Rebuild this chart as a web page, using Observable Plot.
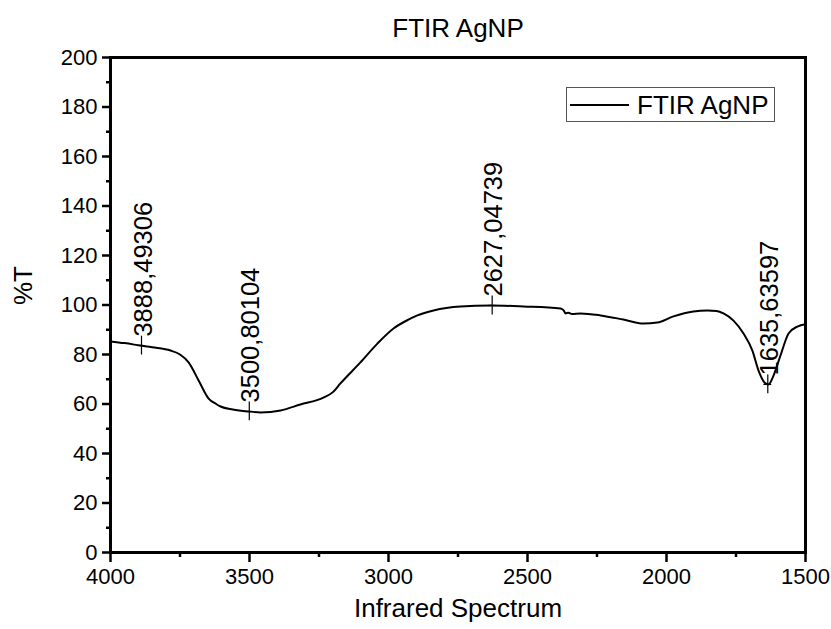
<!DOCTYPE html>
<html>
<head>
<meta charset="utf-8">
<script src="https://cdn.jsdelivr.net/npm/d3@7"></script>
<script src="https://cdn.jsdelivr.net/npm/@observablehq/plot@0.6"></script>
<style>
  html, body { margin: 0; padding: 0; background: white; }
  #wrap { position: relative; width: 831px; height: 629px; font-family: "Liberation Sans", Arial, sans-serif; }
  #legend { position: absolute; left: 566px; top: 87px; width: 207px; height: 33px; border: 1px solid #555; background: white; box-sizing: content-box; }
  #legend svg { position: absolute; left: 0; top: 0; }
</style>
</head>
<body>
<div id="wrap"></div>
<script>
// Spectrum (wavenumber, cm-1 ; %T)
const wavenumber = [4000, 3950, 3892, 3850, 3784, 3750, 3719, 3683, 3647, 3620, 3604, 3560, 3507, 3460, 3388, 3317, 3234, 3200, 3173, 3101, 3040, 2982, 2930, 2896, 2838, 2741, 2633, 2514, 2381, 2370, 2363, 2353, 2340, 2309, 2237, 2155, 2083, 2033, 1975, 1903, 1853, 1820, 1795, 1759, 1723, 1691, 1669, 1644, 1633, 1615, 1590, 1561, 1529, 1500];
const transmittance = [85.3, 84.6, 83.6, 82.9, 81.6, 80.0, 76.8, 69.5, 62.2, 60.0, 59.0, 57.8, 57.0, 56.6, 57.4, 59.8, 62.6, 64.8, 68.3, 76.8, 84.4, 90.5, 94.0, 95.8, 97.8, 99.4, 99.8, 99.4, 98.6, 97.8, 96.6, 96.9, 96.4, 96.6, 95.8, 94.1, 92.5, 92.9, 95.4, 97.4, 97.8, 97.6, 96.6, 93.7, 88.5, 81.6, 73.5, 68.3, 67.9, 71.5, 79.6, 88.5, 91.3, 92.2];

// Peak annotations
const peakWavenumber = [3888.49306, 3500.80104, 2627.04739, 1635.63597];
const peakTransmittance = [83.6, 57.0, 99.8, 67.9];

// Axis ticks
const xTicks = [4000, 3500, 3000, 2500, 2000, 1500];
const xMinorTicks = [3750, 3250, 2750, 2250, 1750];
const yTicks = [0, 20, 40, 60, 80, 100, 120, 140, 160, 180, 200];
const yMinorTicks = [10, 30, 50, 70, 90, 110, 130, 150, 170, 190];

const titleText = "FTIR AgNP";
const seriesName = "FTIR AgNP";
const xLabel = "Infrared Spectrum";
const yLabel = "%T";

const data = wavenumber.map((w, i) => ({w, t: transmittance[i]}));
const peaks = peakWavenumber.map((w, i) => ({w, t: peakTransmittance[i], label: String(w).replace(".", ",")}));

const plot = Plot.plot({
  width: 831,
  height: 629,
  marginLeft: 110,
  marginRight: 26,
  marginTop: 57,
  marginBottom: 77,
  style: {fontFamily: "'Liberation Sans', Arial, sans-serif", fontSize: "22px", color: "black", background: "white"},
  x: {domain: [4000, 1500]},
  y: {domain: [0, 200]},
  marks: [
    Plot.axisX(xMinorTicks, {tickSize: 5, strokeWidth: 2.5, tickFormat: () => "", label: null}),
    Plot.axisX(xTicks, {tickSize: 10, strokeWidth: 2.5, tickPadding: 6, tickFormat: d => String(d), label: null, fontSize: 22}),
    Plot.axisY(yMinorTicks, {tickSize: 4, strokeWidth: 2.5, tickFormat: () => "", label: null}),
    Plot.axisY(yTicks, {tickSize: 8, strokeWidth: 2.5, tickPadding: 5, tickFormat: d => String(d), label: null, fontSize: 22}),
    Plot.frame({stroke: "black", strokeWidth: 3}),
    Plot.line(data, {x: "w", y: "t", stroke: "black", strokeWidth: 2, curve: "monotone-x"}),
    Plot.ruleX(peaks, {x: "w", y1: d => d.t - 3.8, y2: d => d.t + 3.8, stroke: "black", strokeWidth: 1.2}),
    Plot.ruleY(peaks, {y: "t", x1: d => d.w + 14, x2: d => d.w - 14, stroke: "black", strokeWidth: 1.2}),
    Plot.text(peaks, {x: "w", y: "t", text: "label", rotate: -90, textAnchor: "start", lineAnchor: "middle", dy: -9, dx: 2, fontSize: 25.5, fill: "black"}),
    Plot.text([titleText], {frameAnchor: "top", dy: -29, lineAnchor: "middle", fontSize: 26, fill: "black"}),
    Plot.text([xLabel], {frameAnchor: "bottom", dy: 56, lineAnchor: "middle", fontSize: 26, fill: "black"}),
    Plot.text([yLabel], {frameAnchor: "left", dx: -87, rotate: -90, lineAnchor: "middle", fontSize: 26, fill: "black"})
  ]
});

const wrap = document.getElementById("wrap");
wrap.appendChild(plot);

const legend = document.createElement("div");
legend.id = "legend";
legend.innerHTML = `<svg width="207" height="33"><line x1="3" x2="62" y1="17" y2="17" stroke="black" stroke-width="2"/><text x="70" y="26" font-size="26" font-family="'Liberation Sans', Arial, sans-serif" fill="black">${seriesName}</text></svg>`;
wrap.appendChild(legend);
</script>
</body>
</html>
